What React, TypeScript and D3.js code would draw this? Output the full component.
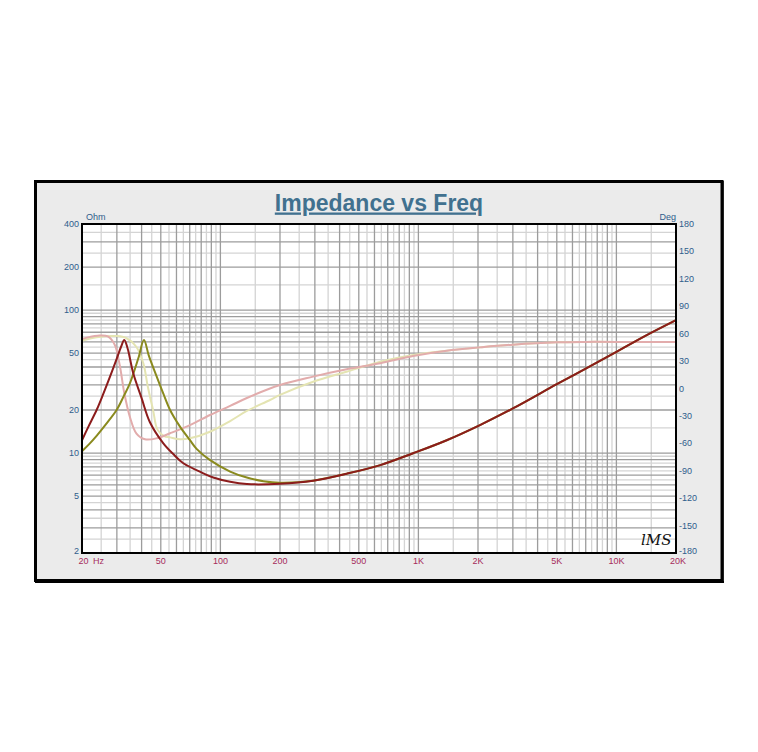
import React from 'react';
import * as d3 from 'd3';

// ---------- data ----------
const freqTicks = [20, 50, 100, 200, 500, 1000, 2000, 5000, 10000, 20000];
const freqTickLabels = ['20', '50', '100', '200', '500', '1K', '2K', '5K', '10K', '20K'];
const ohmTicks = [400, 200, 100, 50, 20, 10, 5, 2];
const ohmTickLabels = ['400', '200', '100', '50', '20', '10', '5', '2'];
const degTicks = [180, 150, 120, 90, 60, 30, 0, -30, -60, -90, -120, -150, -180];

// dark red impedance (Ohm)
const redFreq = [20, 21.5, 23.7, 25.5, 27.7, 30, 31.5, 32.7, 34, 36.3, 40, 44, 51.5, 58, 65, 82, 92, 112, 136, 200, 294, 434, 642, 940, 1390, 2046, 3000, 5000, 7000, 10000, 14000, 20000];
const redOhm = [12.3, 15.2, 20, 25.5, 34.2, 46, 55.4, 61.8, 53.9, 36.1, 24.2, 16.5, 11.7, 9.8, 8.48, 7.22, 6.75, 6.3, 6.07, 6.1, 6.41, 7.17, 8.24, 9.97, 12.3, 15.7, 20.5, 30.3, 39, 51, 66, 85];

// olive impedance (Ohm)
const oliveFreq = [20, 21.8, 23.7, 26.5, 29.9, 32.5, 34.9, 38.5, 41.1, 43.5, 47.7, 51.5, 55.7, 62.5, 70.2, 75.8, 88, 112, 136, 165, 200, 294, 434, 642, 940, 1390, 2046, 3000, 5000, 7000, 10000, 14000, 20000];
const oliveOhm = [10.3, 11.6, 13.2, 16, 20, 25, 30.7, 46, 61.8, 48, 34.2, 26, 20, 15.3, 12.3, 10.7, 9.0, 7.42, 6.74, 6.36, 6.2, 6.41, 7.17, 8.24, 9.97, 12.3, 15.7, 20.5, 30.3, 39, 51, 66, 85];

// pink phase (deg)
const pinkFreq = [20, 22, 24, 27, 29.3, 31.1, 32.7, 34.9, 37.6, 41.6, 47.7, 55.7, 70.2, 88.6, 112, 136, 200, 294, 434, 642, 940, 1390, 2046, 3000, 5000, 7000, 10000, 20000];
const pinkDeg = [54, 56.5, 57.8, 57, 47.6, 24, -5, -31, -49, -55.6, -54.5, -49, -40, -29, -19.1, -10.4, 3.8, 13, 21, 27.6, 35.6, 41.4, 45, 48, 50.5, 51, 51, 51];

// pale phase (deg)
const paleFreq = [20, 23.7, 29.9, 33.6, 37.6, 40.8, 43, 45.7, 48.1, 52, 55.7, 62.5, 70.2, 88.6, 112, 136, 178, 200, 294, 434, 642, 940, 1390, 2046, 3000, 5000, 7000, 10000, 20000];
const paleDeg = [52.3, 56, 57.4, 55, 45.7, 27.6, 2, -23.5, -45, -52, -53.5, -55.6, -54.5, -47.3, -35.6, -24.6, -12.6, -7, 7.4, 18.4, 29.3, 36.7, 41.4, 45, 48, 50.5, 51, 51, 51];

// ---------- layout ----------
const W = 758;
const H = 752;
const PL = 82, PR = 676, PT = 224, PB = 553;

const x = d3.scaleLog().domain([20, 20000]).range([PL, PR]);
const yOhm = d3.scaleLog().domain([2, 400]).range([PB, PT]);
const yDeg = d3.scaleLinear().domain([-180, 180]).range([PB, PT]);

function gridValues(lo: number, hi: number, decades: number[]) {
  const out: { v: number; major: boolean }[] = [];
  decades.forEach((d) => {
    for (let m = 1; m < 10; m += 0.5) {
      const v = m * d;
      if (v >= lo && v <= hi) out.push({ v, major: Number.isInteger(m) });
    }
  });
  if (!out.find((o) => o.v === hi)) out.push({ v: hi, major: true });
  return out;
}

const vGrid = gridValues(20, 20000, [10, 100, 1000, 10000]);
const hGrid = gridValues(2, 400, [1, 10, 100]);

const curve = d3.curveCatmullRom.alpha(0.5);

const lineOhm = (fs: number[], vs: number[]) =>
  d3
    .line<number>()
    .x((_, i) => x(fs[i]))
    .y((v) => yOhm(v))
    .curve(curve)(vs) || '';

const lineDeg = (fs: number[], vs: number[]) =>
  d3
    .line<number>()
    .x((_, i) => x(fs[i]))
    .y((v) => yDeg(v))
    .curve(curve)(vs) || '';

const FONT = 'Liberation Sans, Arial, sans-serif';
const BLUE = '#2f5d8c';
const CRIMSON = '#a62b5c';

export default function App() {
  return (
    <svg
      width={W}
      height={H}
      style={{ position: 'absolute', left: 0, top: 0, background: '#fff' }}
      fontFamily={FONT}
    >
      {/* outer frame */}
      <rect x={35.5} y={181.5} width={686.5} height={399} fill="#ebebeb" stroke="#000" strokeWidth={3} />
      <line x1={35} x2={724} y1={582} y2={582} stroke="#000" strokeWidth={2} />
      <line x1={723} x2={723} y1={181} y2={583} stroke="#000" strokeWidth={1.5} />

      {/* title */}
      <text
        x={379}
        y={210.5}
        textAnchor="middle"
        fontSize={23}
        fontWeight="bold"
        fill="#41718f"
        style={{ textDecoration: 'underline' }}
      >
        Impedance vs Freq
      </text>

      {/* plot background */}
      <rect x={PL} y={PT} width={PR - PL} height={PB - PT} fill="#fff" />

      {/* grid: light first then major */}
      {[false, true].map((maj) => (
        <g key={String(maj)}>
          {vGrid
            .filter((g) => g.major === maj)
            .map((g, i) => (
              <line
                key={'v' + i}
                x1={x(g.v)}
                x2={x(g.v)}
                y1={PT}
                y2={PB}
                stroke={maj ? '#9c9c9c' : '#d4d4d4'}
                strokeWidth={1.3}
              />
            ))}
          {hGrid
            .filter((g) => g.major === maj)
            .map((g, i) => (
              <line
                key={'h' + i}
                x1={PL}
                x2={PR}
                y1={yOhm(g.v)}
                y2={yOhm(g.v)}
                stroke={maj ? '#9c9c9c' : '#d4d4d4'}
                strokeWidth={1.3}
              />
            ))}
        </g>
      ))}

      {/* curves */}
      <g fill="none" strokeLinejoin="round" strokeLinecap="round">
        <path d={lineDeg(paleFreq, paleDeg)} stroke="#e4e4b2" strokeWidth={2} />
        <path d={lineDeg(pinkFreq, pinkDeg)} stroke="#e2acac" strokeWidth={2} />
        <path d={lineOhm(oliveFreq, oliveOhm)} stroke="#8a8a1e" strokeWidth={2} />
        <path d={lineOhm(redFreq, redOhm)} stroke="#8c1c1c" strokeWidth={2} />
      </g>

      {/* plot border */}
      <rect x={PL} y={PT} width={PR - PL} height={PB - PT} fill="none" stroke="#000" strokeWidth={2} />

      {/* left axis labels */}
      <text x={86} y={220} fontSize={9} fill={BLUE}>Ohm</text>
      {ohmTicks.map((v, i) => (
        <text
          key={'o' + i}
          x={79}
          y={yOhm(v) + (i === ohmTicks.length - 1 ? 1 : 3)}
          fontSize={9}
          fill={BLUE}
          textAnchor="end"
        >
          {ohmTickLabels[i]}
        </text>
      ))}

      {/* right axis labels */}
      <text x={676} y={220} fontSize={9} fill={BLUE} textAnchor="end">Deg</text>
      {degTicks.map((v, i) => (
        <text
          key={'d' + i}
          x={679}
          y={yDeg(v) + (i === degTicks.length - 1 ? 1 : 3)}
          fontSize={9}
          fill={BLUE}
        >
          {String(v)}
        </text>
      ))}

      {/* bottom axis labels */}
      {freqTicks.map((v, i) => (
        <text
          key={'f' + i}
          x={i === 0 ? 78.5 : x(v) + (i === freqTicks.length - 1 ? 2 : 0)}
          y={563.5}
          fontSize={9}
          fill={CRIMSON}
          textAnchor={i === 0 ? 'start' : 'middle'}
        >
          {freqTickLabels[i]}
        </text>
      ))}
      <text x={93} y={563.5} fontSize={9} fill={CRIMSON}>Hz</text>

      {/* LMS signature */}
      <text
        x={641}
        y={545}
        fontSize={15}
        fontStyle="italic"
        fontFamily="DejaVu Serif, serif"
        fill="#111"
      >
        lMS
      </text>
    </svg>
  );
}
